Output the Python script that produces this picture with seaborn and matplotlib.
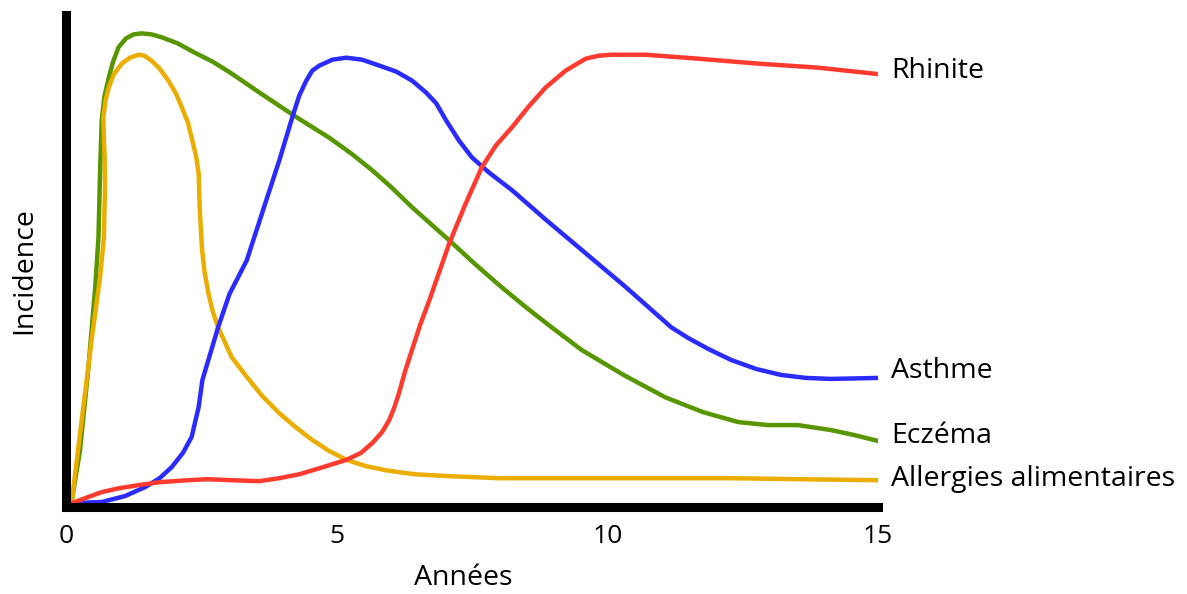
import matplotlib
matplotlib.use("Agg")
import matplotlib.pyplot as plt
import pandas as pd
import seaborn as sns

# values (x in years, y in arbitrary incidence units 0-100)
eczema_x = [0, 0.11, 0.26, 0.41, 0.54, 0.60, 0.63, 0.66, 0.71, 0.79, 0.87, 0.97, 1.11, 1.25,
            1.40, 1.58, 1.77, 2.06, 2.38, 2.71, 3.06, 3.57, 4.26, 4.86, 5.27, 5.66, 6.03,
            6.39, 6.73, 7.08, 7.54, 8.0, 8.50, 8.97, 9.53, 10.30, 11.07, 11.77, 12.42, 12.97,
            13.52, 14.13, 14.56, 15.0]
eczema_y = [0, 1.4, 11.5, 27.6, 44.3, 54.3, 67.8, 77.9, 82.7, 86.5, 89.7, 92.6, 94.4, 95.2,
            95.4, 95.2, 94.6, 93.4, 91.5, 89.7, 87.3, 83.5, 78.5, 74.4, 71.2, 67.8, 64.2,
            60.4, 57.1, 53.7, 49.1, 44.7, 40.2, 36.2, 31.6, 26.6, 22.1, 19.1, 17.1, 16.5,
            16.5, 15.5, 14.5, 13.3]

allergies_x = [0, 0.11, 0.29, 0.48, 0.63, 0.70, 0.72, 0.715, 0.70, 0.69, 0.73, 0.79, 0.88, 1.03,
               1.18, 1.34, 1.45, 1.58, 1.73, 1.89, 2.03, 2.14, 2.25, 2.32, 2.40, 2.45, 2.47,
               2.51, 2.56, 2.63, 2.71, 2.81, 3.06, 3.34, 3.63, 3.94, 4.24, 4.55, 4.86, 5.18,
               5.55, 5.91, 6.43, 7.08, 8.0, 9.84, 12.29, 13.52, 15.0]
allergies_y = [0, 1.4, 17.5, 34.2, 46.3, 54.3, 64.4, 69.8, 74.4, 78.5, 81.9, 84.5, 87.1, 89.3,
               90.5, 91.1, 90.9, 89.9, 88.3, 85.9, 83.3, 80.5, 77.5, 74.4, 70.8, 67.2, 60.4,
               52.3, 47.3, 43.1, 39.4, 36.2, 30.2, 26.2, 22.3, 18.9, 16.1, 13.5, 11.3, 9.5,
               8.2, 7.4, 6.6, 6.2, 5.8, 5.8, 5.8, 5.6, 5.4]

asthme_x = [0, 0.11, 0.66, 1.09, 1.46, 1.73, 1.95, 2.16, 2.32, 2.45, 2.52, 2.63, 2.81, 3.02,
            3.34, 3.70, 3.94, 4.18, 4.31, 4.44, 4.55, 4.68, 4.92, 5.18, 5.47, 5.79, 6.10,
            6.39, 6.65, 6.84, 7.02, 7.26, 7.50, 7.81, 8.24, 8.86, 9.47, 10.34, 11.18, 11.50,
            11.87, 12.29, 12.75, 13.21, 13.67, 14.13, 15.0]
asthme_y = [0, 0.8, 1.0, 2.2, 4.0, 5.8, 8.0, 10.9, 14.1, 20.1, 25.6, 29.6, 36.2, 42.9,
            49.7, 61.8, 69.8, 78.5, 82.9, 85.9, 87.9, 88.9, 90.1, 90.5, 90.1, 88.9, 87.7,
            85.9, 83.5, 81.3, 77.9, 73.8, 70.4, 67.4, 63.8, 57.9, 52.3, 44.3, 36.2, 34.0,
            31.8, 29.6, 27.8, 26.6, 26.0, 25.8, 26.0]

rhinite_x = [0, 0.11, 0.66, 0.99, 1.34, 1.73, 2.26, 2.60, 3.06, 3.57, 3.94, 4.31, 4.68, 5.18,
             5.45, 5.66, 5.84, 5.97, 6.06, 6.15, 6.26, 6.39, 6.54, 6.71, 7.08, 7.37, 7.68,
             7.94, 8.24, 8.55, 8.86, 9.23, 9.60, 9.84, 10.08, 10.71, 11.68, 12.79, 13.89, 15.0]
rhinite_y = [0, 0.8, 3.0, 3.8, 4.4, 5.0, 5.4, 5.6, 5.4, 5.2, 5.8, 6.6, 7.8, 9.5,
             10.9, 12.9, 15.1, 17.5, 19.9, 22.9, 27.2, 31.6, 36.6, 41.6, 53.1, 60.8, 68.4,
             72.8, 76.5, 80.7, 84.5, 87.9, 90.3, 90.9, 91.1, 91.1, 90.3, 89.3, 88.5, 87.2]

names = ["Rhinite", "Asthme", "Eczéma", "Allergies alimentaires"]
label_y = [87.9, 27.4, 14.3, 5.6]
colors = {"Rhinite": "#ff3b30", "Asthme": "#2b2bff", "Eczéma": "#589600",
          "Allergies alimentaires": "#ebad00"}

series = {
    "Eczéma": (eczema_x, eczema_y),
    "Allergies alimentaires": (allergies_x, allergies_y),
    "Asthme": (asthme_x, asthme_y),
    "Rhinite": (rhinite_x, rhinite_y),
}

sns.set_theme(style="white")
plt.rcParams["font.family"] = ["Open Sans", "DejaVu Sans"]

fig = plt.figure(figsize=(11.87, 5.94), dpi=100)
ax = fig.add_axes([66 / 1187, 87 / 594, (878 - 66) / 1187, (507 - 15.5) / 594])

for name, (xs, ys) in series.items():
    df = pd.DataFrame({"x": xs, "y": ys})
    sns.lineplot(data=df, x="x", y="y", sort=False, estimator=None, ax=ax,
                 color=colors[name], linewidth=3.2, solid_capstyle="round",
                 solid_joinstyle="round")

for name, yy in zip(names, label_y):
    ax.text(15.24, yy, name, ha="left", va="center", fontsize=20.5, color="black")

ax.set_xlim(0, 15)
ax.set_ylim(0, 99)
ax.set_xticks([0, 5, 10, 15])
ax.set_yticks([])
ax.tick_params(axis="x", length=0, pad=12, labelsize=19, colors="black")
for side in ["top", "right"]:
    ax.spines[side].set_visible(False)
for side in ["left", "bottom"]:
    ax.spines[side].set_linewidth(6.5)
    ax.spines[side].set_color("black")
    ax.spines[side].set_capstyle("projecting")

ax.set_xlabel("Années", fontsize=20.5, color="black")
ax.set_ylabel("Incidence", fontsize=20.5, color="black")
ax.xaxis.set_label_coords(0.489, -0.1445)
ax.xaxis.label.set_va("center")
ax.yaxis.set_label_coords(-0.0517, 0.482)
ax.yaxis.label.set_va("center")

fig.savefig("out.png", dpi=100)
